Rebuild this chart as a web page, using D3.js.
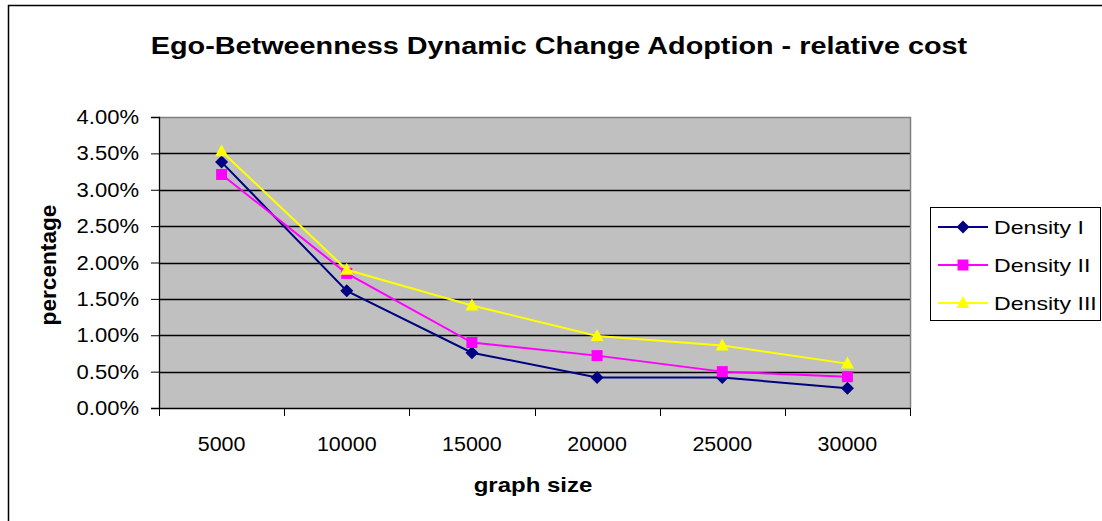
<!DOCTYPE html>
<html>
<head>
<meta charset="utf-8">
<script src="https://cdn.jsdelivr.net/npm/d3@7"></script>
<style>
  html, body { margin: 0; padding: 0; background: #fff; }
  svg { display: block; font-family: Arial, "Liberation Sans", sans-serif; }
</style>
</head>
<body>
<svg id="chart" width="1102" height="521"></svg>
<script>
// Graph sizes on the x axis
const categories = ["5000", "10000", "15000", "20000", "25000", "30000"];

// Relative cost (percent) for each density level
const densityI   = [3.38, 1.61, 0.76, 0.42, 0.42, 0.27];
const densityII  = [3.21, 1.85, 0.90, 0.72, 0.50, 0.43];
const densityIII = [3.53, 1.90, 1.41, 0.99, 0.86, 0.61];

const yTicks = [0, 0.5, 1, 1.5, 2, 2.5, 3, 3.5, 4];

const seriesNames = ["Density I", "Density II", "Density III"];

const series = [
  { name: seriesNames[0], values: densityI,   color: "#000080", marker: "diamond" },
  { name: seriesNames[1], values: densityII,  color: "#ff00ff", marker: "square" },
  { name: seriesNames[2], values: densityIII, color: "#ffff00", marker: "triangle" }
];

const svg = d3.select("#chart");

// Text drawn with a slight horizontal stretch
function label(parent, x, y, str, opts) {
  const o = Object.assign({ size: 20, weight: "normal", anchor: "start", sx: 1.15, rotate: 0 }, opts);
  return parent.append("text")
    .attr("transform", `translate(${x},${y}) rotate(${o.rotate}) scale(${o.sx},1)`)
    .attr("text-anchor", o.anchor)
    .attr("font-size", o.size)
    .attr("font-weight", o.weight)
    .attr("fill", "#000")
    .text(str);
}

// Outer chart frame
svg.append("path")
  .attr("d", "M8.5,521 V5.5 H1102")
  .attr("fill", "none").attr("stroke", "#000").attr("stroke-width", 1.5);

const plot = { left: 159, right: 910, top: 117, bottom: 408 };

const x = d3.scaleBand().domain(categories).range([plot.left, plot.right]);
const y = d3.scaleLinear().domain([0, 4]).range([plot.bottom, plot.top]);

// Plot background
svg.append("rect")
  .attr("x", plot.left).attr("y", plot.top)
  .attr("width", plot.right - plot.left).attr("height", plot.bottom - plot.top)
  .attr("fill", "#c0c0c0");

// Horizontal gridlines
svg.append("g").selectAll("line").data(yTicks.filter(d => d > 0 && d < 4)).join("line")
  .attr("x1", plot.left).attr("x2", plot.right)
  .attr("y1", d => Math.round(y(d)) + 0.5).attr("y2", d => Math.round(y(d)) + 0.5)
  .attr("stroke", "#000").attr("stroke-width", 1.3);

// Plot frame (top and right in gray)
svg.append("path")
  .attr("d", `M${plot.left},${plot.top + 0.5} H${plot.right + 0.5} V${plot.bottom}`)
  .attr("fill", "none").attr("stroke", "#808080").attr("stroke-width", 1.5);

// Y axis: line and ticks from the axis generator, labels drawn separately
const yAxis = svg.append("g")
  .attr("transform", `translate(${plot.left},0)`)
  .call(d3.axisLeft(y).tickValues(yTicks).tickSize(8).tickFormat(""));
yAxis.select(".domain").attr("stroke", "#000").attr("stroke-width", 1.3);
yAxis.selectAll(".tick line").attr("stroke", "#000");
const yLabels = svg.append("g");
yTicks.forEach(t => {
  label(yLabels, 139, y(t) + 7, t.toFixed(2) + "%", { size: 19.5, anchor: "end", sx: 1.13 });
});

// X axis with ticks on band boundaries
const xAxis = svg.append("g")
  .attr("transform", `translate(0,${plot.bottom})`)
  .call(d3.axisBottom(x).tickSize(0).tickFormat(""));
xAxis.select(".domain").attr("stroke", "#000").attr("stroke-width", 1.3);
const bounds = categories.map(c => x(c)).concat([x(categories[categories.length - 1]) + x.bandwidth()]);
svg.append("g").selectAll("line").data(bounds).join("line")
  .attr("x1", d => Math.round(d) + 0.5).attr("x2", d => Math.round(d) + 0.5)
  .attr("y1", plot.bottom).attr("y2", plot.bottom + 8)
  .attr("stroke", "#000");
const xLabels = svg.append("g");
categories.forEach(c => {
  label(xLabels, x(c) + x.bandwidth() / 2, 451, c, { size: 19.5, anchor: "middle", sx: 1.1 });
});

// Marker shapes
function markerPath(type) {
  if (type === "diamond") return "M0,-6.5 L6.5,0 L0,6.5 L-6.5,0 Z";
  if (type === "square") return "M-5.5,-5.5 H5.5 V5.5 H-5.5 Z";
  return "M0,-7 L6.5,5 L-6.5,5 Z";
}

const line = d3.line()
  .x((d, i) => x(categories[i]) + x.bandwidth() / 2)
  .y(d => y(d));

series.forEach(s => {
  const g = svg.append("g");
  g.append("path")
    .attr("d", line(s.values))
    .attr("fill", "none").attr("stroke", s.color).attr("stroke-width", 2);
  g.selectAll("path.mk").data(s.values).join("path")
    .attr("class", "mk")
    .attr("d", markerPath(s.marker))
    .attr("transform", (d, i) => `translate(${x(categories[i]) + x.bandwidth() / 2},${y(d)})`)
    .attr("fill", s.color);
});

// Title
label(svg, 559, 54, "Ego-Betweenness Dynamic Change Adoption - relative cost",
  { size: 24, weight: "bold", anchor: "middle", sx: 1.2 });

// Axis titles
label(svg, 533, 492, "graph size", { size: 20, weight: "bold", anchor: "middle", sx: 1.2 });
label(svg, 56, 265, "percentage", { size: 22, weight: "bold", anchor: "middle", sx: 1.03, rotate: -90 });

// Legend
const legend = svg.append("g");
legend.append("rect")
  .attr("x", 930.5).attr("y", 207.5).attr("width", 170).attr("height", 113)
  .attr("fill", "#fff").attr("stroke", "#000").attr("stroke-width", 1);
series.forEach((s, i) => {
  const cy = 227 + i * 38;
  legend.append("line")
    .attr("x1", 938).attr("x2", 988).attr("y1", cy).attr("y2", cy)
    .attr("stroke", s.color).attr("stroke-width", 2);
  legend.append("path")
    .attr("d", markerPath(s.marker))
    .attr("transform", `translate(963,${cy})`)
    .attr("fill", s.color);
  label(legend, 994, cy + 7, s.name, { size: 18.5, sx: 1.25 });
});
</script>
</body>
</html>
